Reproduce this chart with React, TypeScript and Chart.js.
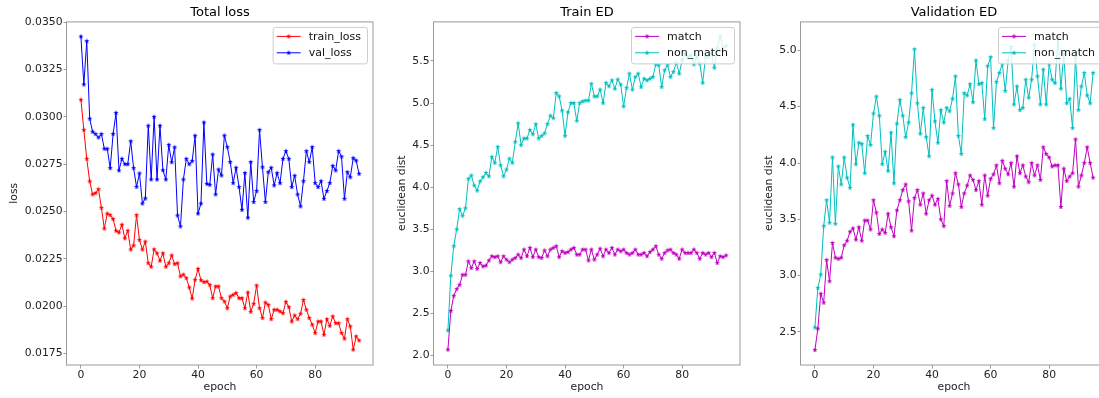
import { useEffect, useRef } from 'react';
import { Chart, registerables } from 'chart.js';

Chart.register(...registerables);

const FONT = '"DejaVu Sans", "Liberation Sans", sans-serif';
const AXIS = '#9a9a9a';

// epochs 0..95
const epochs = Array.from({ length: 96 }, (_, i) => i);
const epochTicks = [0, 20, 40, 60, 80];

const trainLoss = [
  0.0309, 0.02931, 0.02778, 0.02659, 0.0259, 0.02597, 0.02618, 0.02519, 0.0241, 0.02489,
  0.02481, 0.0246, 0.02398, 0.02389, 0.0243, 0.02358, 0.02398, 0.02299, 0.0232, 0.02481,
  0.02349, 0.02299, 0.02341, 0.02227, 0.02208, 0.023, 0.02279, 0.0224, 0.02279, 0.02208,
  0.02227, 0.02268, 0.02222, 0.02227, 0.02157, 0.02167, 0.02148, 0.02099, 0.0204, 0.02139,
  0.02197, 0.02137, 0.02127, 0.0213, 0.02112, 0.02042, 0.02104, 0.02104, 0.02042, 0.02025,
  0.01989, 0.02051, 0.0206, 0.02069, 0.02042, 0.02042, 0.01989, 0.02072, 0.0197, 0.02012,
  0.02109, 0.01989, 0.01937, 0.02019, 0.02007, 0.01931, 0.01981, 0.01981, 0.01972, 0.01963,
  0.02023, 0.01995, 0.01919, 0.01951, 0.01931, 0.0196, 0.02033, 0.01981, 0.01937, 0.01902,
  0.01858, 0.01919, 0.01919, 0.01849, 0.01931, 0.01896, 0.01946, 0.0191, 0.0191, 0.01858,
  0.01828, 0.01931, 0.01893, 0.0177, 0.0184, 0.01819,
];

const valLoss = [
  0.03424, 0.03171, 0.034, 0.0299, 0.02921, 0.02909, 0.02891, 0.02909, 0.02831, 0.02831,
  0.02729, 0.02909, 0.03021, 0.02717, 0.02778, 0.0275, 0.0275, 0.02871, 0.02729, 0.0263,
  0.02701, 0.02542, 0.02569, 0.02953, 0.02669, 0.03, 0.02669, 0.02953, 0.02718, 0.02669,
  0.02852, 0.0276, 0.02839, 0.02479, 0.02421, 0.02669, 0.02778, 0.0275, 0.02766, 0.029,
  0.02489, 0.02542, 0.0297, 0.02646, 0.02641, 0.02801, 0.0259, 0.02722, 0.0269, 0.02901,
  0.0284, 0.02761, 0.0265, 0.02731, 0.02629, 0.02509, 0.02703, 0.02467, 0.02761, 0.0255,
  0.02608, 0.02931, 0.02734, 0.0255, 0.02708, 0.02731, 0.02638, 0.02703, 0.0265, 0.02778,
  0.02819, 0.02778, 0.02629, 0.02689, 0.0259, 0.02527, 0.0266, 0.02819, 0.02761, 0.0284,
  0.0265, 0.02629, 0.0266, 0.02567, 0.02608, 0.0265, 0.02741, 0.02717, 0.02819, 0.0279,
  0.02567, 0.02708, 0.02681, 0.02782, 0.02769, 0.02699,
];

const trainMatch = [
  2.07, 2.53, 2.71, 2.79, 2.84, 2.96, 2.96, 3.12, 3.04, 3.12,
  3.03, 3.1, 3.06, 3.07, 3.13, 3.18, 3.17, 3.18, 3.11, 3.18,
  3.14, 3.11, 3.14, 3.16, 3.2, 3.16, 3.26, 3.18, 3.28, 3.17,
  3.26, 3.17, 3.16, 3.25, 3.18, 3.26, 3.28, 3.3, 3.17, 3.24,
  3.22, 3.23, 3.26, 3.28, 3.2, 3.2, 3.26, 3.26, 3.13, 3.26,
  3.14, 3.2, 3.27, 3.18, 3.26, 3.22, 3.28, 3.2, 3.26, 3.24,
  3.26, 3.22, 3.2, 3.22, 3.26, 3.2, 3.2, 3.22, 3.18, 3.23,
  3.26, 3.3, 3.2, 3.15, 3.22, 3.25, 3.26, 3.22, 3.2, 3.15,
  3.26, 3.22, 3.22, 3.22, 3.26, 3.22, 3.15, 3.22, 3.2, 3.22,
  3.17, 3.22, 3.1, 3.18, 3.17, 3.19,
];

const trainNonMatch = [
  2.3, 2.95, 3.3, 3.5, 3.74, 3.66, 3.75, 4.1, 4.14, 4.02,
  3.96, 4.07, 4.12, 4.17, 4.13, 4.36, 4.29, 4.48, 4.26, 4.13,
  4.21, 4.34, 4.29, 4.54, 4.76, 4.5, 4.58, 4.58, 4.68, 4.63,
  4.75, 4.58, 4.61, 4.64, 4.75, 4.85, 4.82, 5.12, 5.08, 4.91,
  4.61, 4.89, 5.0, 5.0, 4.79, 5.0, 5.02, 5.03, 5.03, 5.23,
  5.08, 5.08, 5.16, 5.0, 5.24, 5.2, 5.27, 5.17, 5.28, 5.22,
  4.96, 5.18, 5.35, 5.16, 5.31, 5.35, 5.19, 5.29, 5.27, 5.29,
  5.31, 5.46, 5.45, 5.19, 5.39, 5.45, 5.31, 5.37, 5.48, 5.35,
  5.51, 5.59, 5.55, 5.57, 5.46, 5.55, 5.47, 5.24, 5.55, 5.55,
  5.59, 5.42, 5.65, 5.79, 5.65, 5.68,
];

const valMatch = [
  2.34, 2.53, 2.84, 2.76, 3.14, 2.95, 3.29, 3.16, 3.15, 3.16,
  3.27, 3.31, 3.39, 3.42, 3.32, 3.43, 3.31, 3.49, 3.49, 3.41,
  3.67, 3.56, 3.37, 3.41, 3.38, 3.55, 3.43, 3.35, 3.58, 3.67,
  3.76, 3.81, 3.66, 3.4, 3.69, 3.76, 3.63, 3.73, 3.55, 3.67,
  3.71, 3.63, 3.68, 3.5, 3.44, 3.84, 3.62, 3.73, 3.91, 3.81,
  3.61, 3.73, 3.8, 3.89, 3.85, 3.76, 3.84, 3.63, 3.89, 3.71,
  3.86, 3.9, 3.98, 3.82, 4.02, 3.95, 3.9, 4.0, 3.79, 4.06,
  3.91, 3.98, 3.88, 3.83, 4.0, 3.89, 3.98, 3.85, 4.14, 4.08,
  4.05, 3.97, 3.98, 3.98, 3.61, 3.95, 3.84, 3.88, 3.91, 4.21,
  3.79, 3.89, 4.0, 4.14, 4.0, 3.87,
];

const valNonMatch = [
  2.54, 2.89, 3.01, 3.44, 3.67, 3.47, 4.05, 3.46, 3.97, 3.81,
  4.05, 3.87, 3.78, 4.34, 3.99, 4.18, 4.17, 3.91, 4.24, 4.16,
  4.44, 4.59, 4.42, 3.99, 4.1, 3.93, 4.27, 3.82, 4.35, 4.56,
  4.42, 4.23, 4.36, 4.62, 5.01, 4.53, 4.26, 4.49, 4.23, 4.06,
  4.65, 4.37, 4.18, 4.47, 4.36, 4.49, 4.46, 4.57, 4.77, 4.24,
  4.08, 4.62, 4.6, 4.7, 4.54, 4.91, 4.7, 4.71, 4.39, 4.86,
  4.94, 4.31, 4.72, 4.8, 4.88, 4.64, 4.91, 5.03, 4.52, 4.68,
  4.47, 4.49, 4.74, 4.58, 4.74, 5.05, 4.77, 4.52, 4.83, 4.52,
  4.88, 4.74, 4.71, 5.11, 4.66, 4.97, 4.53, 4.57, 4.31, 4.94,
  4.47, 4.68, 4.8, 4.6, 4.53, 4.8,
];

const lossTicks = [0.0175, 0.02, 0.0225, 0.025, 0.0275, 0.03, 0.0325, 0.035];
const trainEdTicks = [2.0, 2.5, 3.0, 3.5, 4.0, 4.5, 5.0, 5.5];
const valEdTicks = [2.5, 3.0, 3.5, 4.0, 4.5, 5.0];

type Series = { label: string; color: string; values: number[] };

type PanelSpec = {
  title: string;
  yTitle: string;
  yMin: number;
  yMax: number;
  yTicks: number[];
  decimals: number;
  series: Series[];
  left: number;
  width: number;
  yAxisWidth: number;
  rightPad: number;
  yTitlePad: number;
};

const panels: PanelSpec[] = [
  {
    title: 'Total loss',
    yTitle: 'loss',
    yMin: 0.01689,
    yMax: 0.03504,
    yTicks: lossTicks,
    decimals: 4,
    series: [
      { label: 'train_loss', color: '#ff0000', values: trainLoss },
      { label: 'val_loss', color: '#0000ff', values: valLoss },
    ],
    left: 0,
    width: 380,
    yAxisWidth: 67,
    rightPad: 7,
    yTitlePad: 7.8,
  },
  {
    title: 'Train ED',
    yTitle: 'euclidean dist',
    yMin: 1.888,
    yMax: 5.97,
    yTicks: trainEdTicks,
    decimals: 1,
    series: [
      { label: 'match', color: '#bf00bf', values: trainMatch },
      { label: 'non_match', color: '#00bfbf', values: trainNonMatch },
    ],
    left: 380,
    width: 370,
    yAxisWidth: 54,
    rightPad: 10,
    yTitlePad: 15.3,
  },
  {
    title: 'Validation ED',
    yTitle: 'euclidean dist',
    yMin: 2.207,
    yMax: 5.257,
    yTicks: valEdTicks,
    decimals: 1,
    series: [
      { label: 'match', color: '#bf00bf', values: valMatch },
      { label: 'non_match', color: '#00bfbf', values: valNonMatch },
    ],
    left: 750,
    width: 370,
    yAxisWidth: 51,
    rightPad: 13,
    yTitlePad: 12.3,
  },
];

// small filled five-point star used as the point marker
function starMarker(color: string, r: number): HTMLCanvasElement {
  const size = Math.ceil(r * 2) + 2;
  const c = document.createElement('canvas');
  c.width = size;
  c.height = size;
  const ctx = c.getContext('2d')!;
  ctx.fillStyle = color;
  ctx.beginPath();
  for (let i = 0; i < 10; i++) {
    const rad = i % 2 === 0 ? r : r * 0.42;
    const a = -Math.PI / 2 + (i * Math.PI) / 5;
    const px = size / 2 + rad * Math.cos(a);
    const py = size / 2 + rad * Math.sin(a);
    if (i === 0) ctx.moveTo(px, py);
    else ctx.lineTo(px, py);
  }
  ctx.closePath();
  ctx.fill();
  return c;
}

function Panel({ spec }: { spec: PanelSpec }) {
  const ref = useRef<HTMLCanvasElement | null>(null);

  useEffect(() => {
    const canvas = ref.current;
    if (!canvas) return;
    const markers = spec.series.map((s) => starMarker(s.color, 2.7));

    // title centred over the plot area, axes frame, and a boxed legend in the upper-right corner
    const decorations = {
      id: 'decorations',
      afterDatasetsDraw(chart: any) {
        const { ctx, chartArea: a } = chart;
        ctx.save();
        ctx.strokeStyle = AXIS;
        ctx.lineWidth = 1;
        ctx.strokeRect(a.left - 0.5, a.top + 0.5, a.right - a.left + 0.5, a.bottom - a.top - 0.5);

        ctx.font = `13px ${FONT}`;
        ctx.fillStyle = '#000';
        ctx.textAlign = 'center';
        ctx.textBaseline = 'middle';
        ctx.fillText(spec.title, (a.left + a.right) / 2, 12.3);

        ctx.font = `11px ${FONT}`;
        const textW = Math.max(...spec.series.map((s) => ctx.measureText(s.label).width));
        const bw = 36 + textW + 6;
        const bh = 36.5;
        const bx = a.right - 6 - bw;
        const by = a.top + 5.5;
        ctx.beginPath();
        ctx.roundRect(bx + 0.5, by + 0.5, bw, bh, 2.5);
        ctx.fillStyle = 'rgba(255,255,255,0.8)';
        ctx.fill();
        ctx.strokeStyle = '#cccccc';
        ctx.stroke();

        spec.series.forEach((s, i) => {
          const y = by + 9.5 + i * 16.4;
          ctx.strokeStyle = s.color;
          ctx.lineWidth = 1;
          ctx.beginPath();
          ctx.moveTo(bx + 4, y);
          ctx.lineTo(bx + 28, y);
          ctx.stroke();
          const m = markers[i];
          ctx.drawImage(m, bx + 16 - m.width / 2, y - m.height / 2);
          ctx.fillStyle = '#111';
          ctx.textBaseline = 'middle';
          ctx.textAlign = 'left';
          ctx.fillText(s.label, bx + 36, y + 0.5);
        });
        ctx.restore();
      },
    };

    const chart = new Chart(canvas, {
      type: 'line',
      data: {
        datasets: spec.series.map((s, i) => ({
          label: s.label,
          data: epochs.map((e, k) => ({ x: e, y: s.values[k] })),
          borderColor: s.color,
          backgroundColor: s.color,
          borderWidth: 1,
          pointStyle: markers[i] as any,
          pointRadius: 3,
          pointHoverRadius: 3,
          fill: false,
          tension: 0,
        })),
      },
      options: {
        animation: false,
        responsive: false,
        maintainAspectRatio: false,
        events: [],
        layout: { padding: { left: 0, right: spec.rightPad, top: 21.4, bottom: 0 } },
        plugins: {
          legend: { display: false },
          tooltip: { enabled: false },
          title: { display: false },
        },
        scales: {
          x: {
            type: 'linear',
            min: -4.75,
            max: 99.75,
            afterBuildTicks: (s: any) => {
              s.ticks = epochTicks.map((v) => ({ value: v }));
            },
            afterFit: (s: any) => {
              s.height = 33;
            },
            grid: { drawOnChartArea: false, drawTicks: true, tickLength: 3.5, color: AXIS },
            border: { display: false },
            ticks: {
              color: '#222',
              font: { family: FONT, size: 10.8, lineHeight: 1 },
              padding: 0.8,
              maxRotation: 0,
              autoSkip: false,
              callback: (v: any) => String(v),
            },
            title: {
              display: true,
              text: 'epoch',
              color: '#222',
              font: { family: FONT, size: 10.8 },
              padding: { top: 0, bottom: 4.7 },
            },
          },
          y: {
            type: 'linear',
            min: spec.yMin,
            max: spec.yMax,
            afterBuildTicks: (s: any) => {
              s.ticks = spec.yTicks.map((v) => ({ value: v }));
            },
            afterFit: (s: any) => {
              s.width = spec.yAxisWidth;
            },
            grid: { drawOnChartArea: false, drawTicks: true, tickLength: 3.5, color: AXIS },
            border: { display: false },
            ticks: {
              color: '#222',
              font: { family: FONT, size: 10.8 },
              padding: 1,
              autoSkip: false,
              callback: (v: any) => Number(v).toFixed(spec.decimals),
            },
            title: {
              display: true,
              text: spec.yTitle,
              color: '#222',
              font: { family: FONT, size: 10.8 },
              padding: { top: spec.yTitlePad, bottom: 0 },
            },
          },
        },
      },
      plugins: [decorations],
    });

    return () => chart.destroy();
  }, [spec]);

  return (
    <canvas
      ref={ref}
      width={spec.width}
      height={398}
      style={{ position: 'absolute', left: spec.left, top: 0, width: spec.width, height: 398 }}
    />
  );
}

export default function App() {
  return (
    <div
      style={{
        position: 'fixed',
        left: 0,
        top: 0,
        width: 1099,
        height: 398,
        overflow: 'hidden',
        background: '#fff',
      }}
    >
      {panels.map((p) => (
        <Panel key={p.title} spec={p} />
      ))}
    </div>
  );
}
